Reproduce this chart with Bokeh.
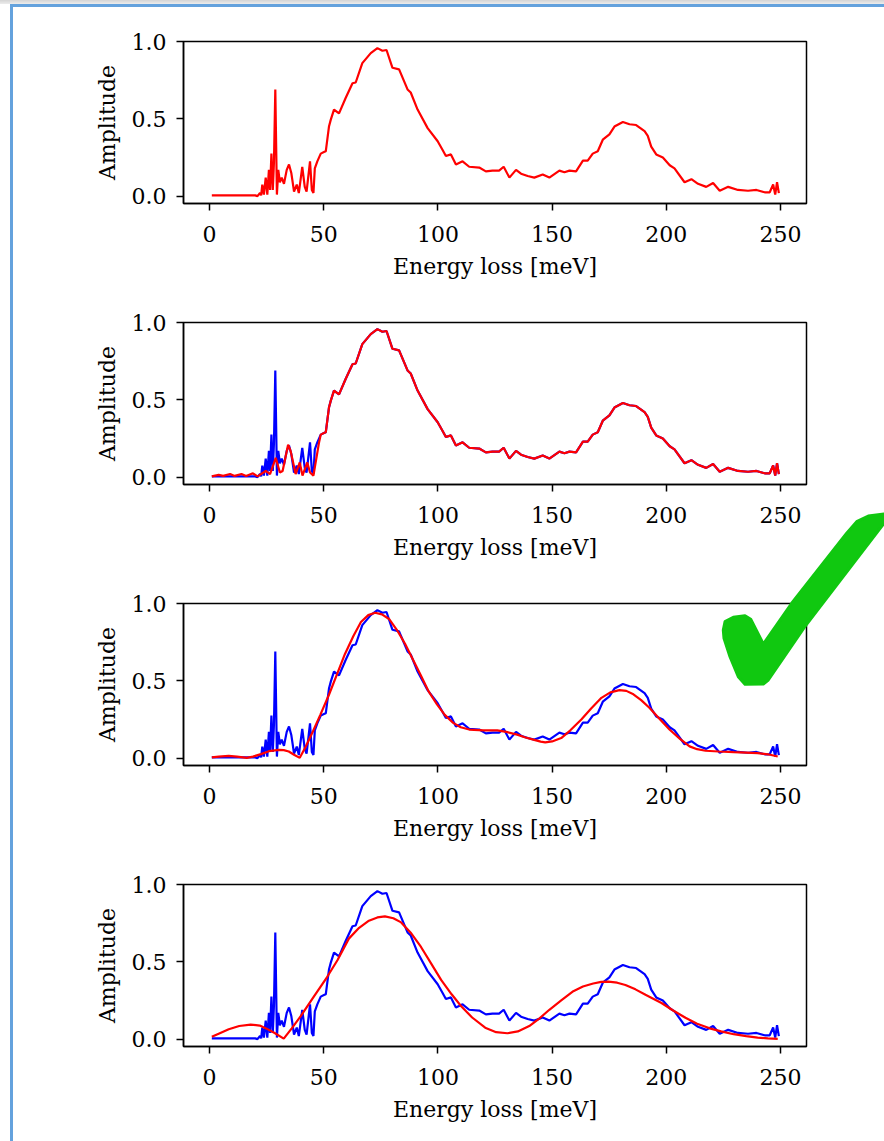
from bokeh.plotting import figure
from bokeh.models import Range1d, FixedTicker, PrintfTickFormatter, GridBox, Div
from bokeh.embed import file_html
from bokeh.resources import INLINE

# ---------------- data ----------------
ENERGY = [1, 19, 20, 21, 22.1, 22.6, 23.1, 23.8, 24.6, 25.3, 26, 26.5, 27.1, 27.7, 28.2, 28.8,
          29.5, 30.1, 30.8, 31.6, 32.6, 33.8, 34.8, 35.8, 37, 38.2, 39.1, 40.6, 41.7, 42.5,
          44, 44.8, 45.5, 46.1, 47.2, 48.7, 50.1, 50.9, 52.3, 53.1, 54.5, 56.7, 59.6, 62.6,
          64, 66.9, 70.6, 73.5, 75.7, 77.5, 80.1, 83, 86.7, 88.1, 91.1, 95.5, 99.9, 102,
          103.5, 105.7, 107.9, 110.8, 113.7, 118.1, 121, 123.9, 126.8, 128.8, 131.3, 134.2,
          136.4, 139.3, 142.2, 145.9, 148.8, 153.2, 155.4, 157.6, 160.5, 163.5, 165.6, 167.8,
          170, 172.2, 175.1, 177.3, 181, 183.9, 186.8, 190.5, 191.9, 193.4, 195.6, 198.5,
          201.5, 203.6, 208, 211, 213.9, 217.5, 220.5, 223.4, 227.1, 231.4, 235.8, 239.5,
          243.1, 245.3, 246.8, 247.7, 248.5, 249.3]
AMPLITUDE = [0.005, 0.005, 0.005, 0.0, 0.02, 0.005, 0.075, 0.01, 0.12, 0.01, 0.17, 0.04, 0.275, 0.04, 0.215, 0.69,
             0.01, 0.17, 0.09, 0.12, 0.08, 0.17, 0.205, 0.15, 0.03, 0.075, 0.02, 0.19, 0.06, 0.03,
             0.225, 0.04, 0.02, 0.18, 0.225, 0.275, 0.285, 0.29, 0.45, 0.495, 0.56, 0.535, 0.635, 0.73,
             0.735, 0.86, 0.925, 0.957, 0.94, 0.945, 0.83, 0.82, 0.69, 0.67, 0.56, 0.44, 0.355, 0.30,
             0.26, 0.27, 0.205, 0.225, 0.19, 0.185, 0.16, 0.165, 0.165, 0.19, 0.12, 0.17,
             0.145, 0.13, 0.12, 0.14, 0.12, 0.165, 0.155, 0.165, 0.16, 0.23, 0.23, 0.275,
             0.29, 0.365, 0.40, 0.45, 0.48, 0.465, 0.46, 0.42, 0.39, 0.32, 0.27, 0.25,
             0.20, 0.18, 0.09, 0.11, 0.08, 0.06, 0.085, 0.035, 0.06, 0.04, 0.035, 0.04,
             0.025, 0.025, 0.075, 0.01, 0.09, 0.02]

# fit 2 (low-energy part; above 48 meV it follows the spectrum)
FIT2_LOW_E = [1, 4, 6, 9, 11, 14, 16, 19, 21, 24.6, 26.5, 29, 30.8, 32, 34.4, 35.5, 37.7, 39.5,
              40.7, 42.8, 44, 45.5, 47.9]
FIT2_LOW_A = [0.005, 0.015, 0.008, 0.02, 0.008, 0.02, 0.008, 0.025, 0.005, 0.04, 0.02, 0.125, 0.03,
              0.04, 0.21, 0.17, 0.02, 0.095, 0.01, 0.095, 0.03, 0.01, 0.22]

FIT3_E = [1, 4, 8.4, 12, 16.3, 19, 22.5, 26, 30.4, 32.5, 34.7, 37, 39.5, 42, 45.3, 48.5, 52.3,
          55.5, 59.3, 63, 66.3, 69.5, 72.5, 75.5, 78.6, 82, 85.6, 89, 92.6, 96, 99.6, 103, 106.7,
          110, 113.7, 120, 126, 130, 134.7, 138, 141.8, 145, 147, 150, 154, 158, 162.8, 167,
          171.6, 175.5, 179.5, 182.5, 185.6, 189, 192.6, 197, 201.4, 206, 210.2, 213.5, 217.2,
          223, 229.5, 235, 240, 244.5, 248.8]
FIT3_A = [0.005, 0.01, 0.015, 0.01, 0.002, 0.01, 0.026, 0.045, 0.054, 0.052, 0.043, 0.022, 0.002,
          0.07, 0.174, 0.28, 0.41, 0.53, 0.674, 0.79, 0.88, 0.925, 0.94, 0.93, 0.90, 0.83, 0.74,
          0.64, 0.533, 0.43, 0.348, 0.28, 0.228, 0.20, 0.185, 0.18, 0.18, 0.17, 0.152, 0.135,
          0.12, 0.107, 0.102, 0.108, 0.13, 0.18, 0.25, 0.32, 0.39, 0.425, 0.44, 0.435, 0.413,
          0.375, 0.326, 0.255, 0.185, 0.125, 0.076, 0.058, 0.048, 0.043, 0.039, 0.036, 0.033,
          0.025, 0.011]

FIT4_E = [1, 4, 8.4, 13, 18, 22, 25, 28.5, 32.5, 36, 40, 45, 51.4, 56, 61, 65.5, 69.8, 73.5,
          76.8, 80.5, 83.9, 88, 92.6, 97, 101.4, 106, 110.2, 115, 120.7, 125.5, 130.4, 135, 140,
          144.5, 148.8, 154, 159.3, 163.5, 168, 171.5, 174.7, 178.5, 182.1, 186.5, 190.9, 194.5,
          197.9, 203, 208.4, 213.5, 219, 224, 229.5, 235, 240, 244.5, 248.8]
FIT4_A = [0.015, 0.035, 0.064, 0.085, 0.094, 0.088, 0.068, 0.04, 0.003, 0.07, 0.15, 0.26, 0.40,
          0.51, 0.65, 0.72, 0.766, 0.787, 0.794, 0.782, 0.755, 0.69, 0.596, 0.49, 0.383, 0.29,
          0.213, 0.14, 0.074, 0.045, 0.038, 0.05, 0.085, 0.135, 0.19, 0.25, 0.31, 0.34, 0.36,
          0.37, 0.372, 0.365, 0.35, 0.322, 0.287, 0.26, 0.234, 0.185, 0.138, 0.10, 0.07, 0.05,
          0.032, 0.02, 0.01, 0.005, 0.002]

X_TICKS = [0, 50, 100, 150, 200, 250]
Y_TICKS = [0.0, 0.5, 1.0]
X_LABEL = "Energy loss [meV]"
Y_LABEL = "Amplitude"

# check-mark decoration outline (page pixels)
CHECK_X = [723.3, 725, 733.3, 745, 750.7, 763.3, 791.7, 846.7, 856.7, 868.3, 884, 884, 806,
           768.3, 763.3, 745, 738.3, 730, 724]
CHECK_Y = [630, 621.7, 617.3, 615.7, 619.3, 644, 603.3, 533.3, 521.7, 516, 514, 523.3, 625,
           680, 684, 684.3, 676.7, 656.7, 638.3]

FONT = "DejaVu Serif"
FS = "22px"
BLUE = "#0000ff"
RED = "#ff0000"
GREEN = "#10c810"
PANEL_H = 281
LW = 2.2


def make_panel(k):
    p = figure(width=884, height=PANEL_H,
               x_range=Range1d(-11.4, 261.4), y_range=Range1d(-0.0475, 1.0),
               output_backend="svg", toolbar_location=None,
               min_border_left=183, min_border_right=78,
               min_border_top=41, min_border_bottom=77,
               margin=(k * PANEL_H, 0, 0, 0))
    p.grid.visible = False
    p.outline_line_color = "black"
    p.outline_line_width = 1.5
    p.background_fill_color = "white"
    p.border_fill_color = "white"
    p.xaxis.ticker = FixedTicker(ticks=X_TICKS)
    p.yaxis.ticker = FixedTicker(ticks=Y_TICKS)
    p.yaxis.formatter = PrintfTickFormatter(format="%.1f")
    p.xaxis.axis_label = X_LABEL
    p.yaxis.axis_label = Y_LABEL
    for ax in p.axis:
        ax.axis_line_color = "black"
        ax.axis_line_width = 1.5
        ax.major_tick_line_color = "black"
        ax.major_tick_line_width = 1.5
        ax.major_tick_out = 7
        ax.major_tick_in = 0
        ax.minor_tick_line_color = None
        ax.major_label_text_font = FONT
        ax.major_label_text_font_size = FS
        ax.major_label_text_color = "black"
        ax.axis_label_text_font = FONT
        ax.axis_label_text_font_size = FS
        ax.axis_label_text_font_style = "normal"
        ax.axis_label_text_color = "black"
    p.xaxis.major_label_standoff = 15
    p.xaxis.axis_label_standoff = 9
    p.yaxis.major_label_standoff = 10
    p.yaxis.axis_label_standoff = 9
    return p


panels = [make_panel(k) for k in range(4)]

# panel 1: spectrum only (in red)
panels[0].line(ENERGY, AMPLITUDE, line_color=RED, line_width=LW)

# panel 2: spectrum + close fit
fit2_e = FIT2_LOW_E + [e for e in ENERGY if e >= 48]
fit2_a = FIT2_LOW_A + [a for e, a in zip(ENERGY, AMPLITUDE) if e >= 48]
panels[1].line(ENERGY, AMPLITUDE, line_color=BLUE, line_width=LW)
panels[1].line(fit2_e, fit2_a, line_color=RED, line_width=LW)

# panel 3
panels[2].line(ENERGY, AMPLITUDE, line_color=BLUE, line_width=LW)
panels[2].line(FIT3_E, FIT3_A, line_color=RED, line_width=LW)

# panel 4
panels[3].line(ENERGY, AMPLITUDE, line_color=BLUE, line_width=LW)
panels[3].line(FIT4_E, FIT4_A, line_color=RED, line_width=LW)

# check mark overlay (decoration drawn as an inline SVG inside a Bokeh Div)
CX0, CY0, CW, CH = 715, 505, 169, 185
pts = " ".join(f"{x - CX0:.1f},{y - CY0:.1f}" for x, y in zip(CHECK_X, CHECK_Y))
check_svg = (f'<svg xmlns="http://www.w3.org/2000/svg" width="{CW}" height="{CH}" '
             f'style="display:block">'
             f'<polygon points="{pts}" fill="{GREEN}" stroke="{GREEN}" stroke-width="3" '
             f'stroke-linejoin="round"/></svg>')
chk = Div(text=check_svg, width=CW, height=CH, margin=(CY0, 0, 0, CX0),
          styles={"overflow": "visible", "padding": "0"})

# page frame decorations
top_shade = Div(text="", width=884, height=4, margin=(0, 0, 0, 0),
                styles={"background": "linear-gradient(#d4d4d4, #ececec)", "width": "884px", "height": "4px"})
top_line = Div(text="", width=874, height=3, margin=(4, 0, 0, 10),
               styles={"background-color": "#64a2dd", "width": "874px", "height": "3px"})
left_line = Div(text="", width=3, height=1137, margin=(4, 0, 0, 10),
                styles={"background-color": "#64a2dd", "width": "3px", "height": "1137px"})

children = [(p, 0, 0) for p in panels] + [(top_shade, 0, 0), (top_line, 0, 0), (left_line, 0, 0), (chk, 0, 0)]
layout = GridBox(children=children)

open("out.html", "w").write(file_html(layout, INLINE))
